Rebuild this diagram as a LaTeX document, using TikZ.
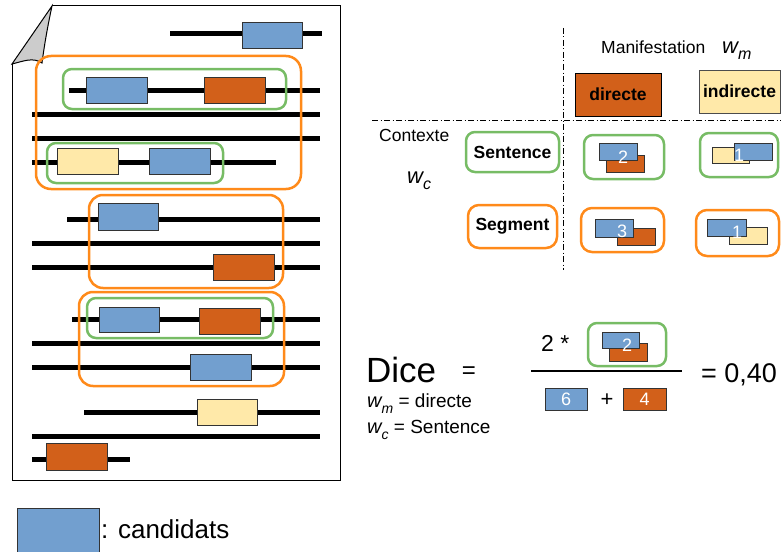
\documentclass[tikz,border=0pt]{standalone}
\usepackage{fontspec}
\setmainfont{Liberation Sans}
\definecolor{cblue}{HTML}{729FCF}
\definecolor{corange}{HTML}{D2601A}
\definecolor{cyellow}{HTML}{FFE9A9}
\definecolor{cgreen}{HTML}{77BC65}
\definecolor{cframe}{HTML}{FF8A1A}
\newcommand\fs[1]{\fontsize{#1}{#1}\selectfont}
% name, style, x1, y1, x2, y2, text
\newcommand\rect[7]{\node[#2, anchor=north west, minimum width={(#5-#3)*1pt}, minimum height={(#6-#4)*1pt}] (#1) at (#3,#4) {#7};}
\newcommand\wsub[3]{{\fs{#1}\itshape w\raisebox{-0.3em}{\fs{#2}#3}}}
\tikzset{
  cand/.style={draw=black!80, line width=0.8pt, inner sep=0pt, outer sep=0pt},
  bl/.style={cand, fill=cblue},
  orr/.style={cand, fill=corange},
  ye/.style={cand, fill=cyellow},
  gframe/.style={draw=cgreen, line width=2.5pt, rounded corners=9pt, inner sep=0pt, outer sep=0pt},
  oframe/.style={draw=cframe, line width=2.5pt, rounded corners=11pt, inner sep=0pt, outer sep=0pt},
  tline/.style={line width=5pt},
  num/.style={text=white, font=\fs{18}, inner sep=0pt},
  lbl/.style={inner sep=0pt, anchor=base west},
  dd/.style={line width=0.9pt, dash pattern=on 6pt off 2.5pt on 1pt off 2.5pt},
}
\begin{document}
\begin{tikzpicture}[x=1pt,y=-1pt]
\useasboundingbox (0,0) rectangle (781,551);
% page
\draw[line width=1pt] (52,6) -- (340,6) -- (340,480) -- (12,480) -- (12,64);
\draw[line width=1pt, fill=black!20] (52,6) -- (12,64) .. controls (24,61) and (33,57) .. (42,63) .. controls (45,40) and (49,20) .. (52,6) -- cycle;
% text lines
\foreach \y/\a/\b in {34/170/322, 90/69/320, 114/32/320, 138/32/320, 162/32/276, 219/67/320, 243/32/320, 267/32/320, 319/72/320, 343/32/320, 367/32/320, 412/84/320, 436/32/320, 459/32/130}
  \draw[tline] (\a,\y) -- (\b,\y);
% candidate boxes
\rect{c1}{bl}{242}{22}{302}{48}{}
\rect{c2}{bl}{86}{77}{147}{103}{}
\rect{c3}{orr}{204}{77}{265}{103}{}
\rect{c4}{ye}{57}{148}{118}{174}{}
\rect{c5}{bl}{149}{148}{210}{174}{}
\rect{c6}{bl}{98}{203}{158}{230}{}
\rect{c7}{orr}{213}{254}{274}{280}{}
\rect{c8}{bl}{99}{307}{159}{332}{}
\rect{c9}{orr}{199}{308}{260}{334}{}
\rect{c10}{bl}{190}{354}{251}{380}{}
\rect{c11}{ye}{197}{399}{257}{425}{}
\rect{c12}{orr}{46}{443}{107}{470}{}
% frames
\rect{f1}{oframe, rounded corners=15pt}{36}{56}{301}{189}{}
\rect{f2}{gframe}{63}{69}{286}{109}{}
\rect{f3}{gframe}{47}{143}{223}{183}{}
\rect{f4}{oframe, rounded corners=14pt}{89}{195}{283}{288}{}
\rect{f5}{oframe, rounded corners=14pt}{79}{292}{284}{386}{}
\rect{f6}{gframe}{87}{298}{273}{338}{}
% legend
\rect{leg}{bl}{17}{508}{99}{553}{}
\node[lbl, font=\fs{26}] (legt) at (101,538) {: candidats};
% table axes
\coordinate (vt) at (563,28);
\coordinate (vb) at (563,270);
\coordinate (hl) at (372,120);
\coordinate (hr) at (781,120);
\draw[dd] (vt) -- (vb);
\draw[dd] (hl) -- (hr);
\node[lbl, font=\fs{17.5}] (manif) at (601,53) {Manifestation};
\node[lbl] (wm) at (722,53) {\wsub{22}{16}{m}};
\rect{dir}{cand, draw=black, fill=corange, font=\bfseries\fs{17.5}}{575}{73}{661}{116}{directe}
\rect{ind}{cand, draw=black!70, fill=cyellow, font=\bfseries\fs{17.5}}{699}{70}{780}{113}{indirecte}
\node[lbl, font=\fs{17.5}] (ctx) at (379,141) {Contexte};
\node[lbl] (wc) at (407,183) {\wsub{22}{16}{c}};
\rect{sen}{gframe, font=\bfseries\fs{17.5}}{466}{132}{559}{172}{Sentence}
\rect{seg}{oframe, font=\bfseries\fs{17.5}}{468}{205}{557}{248}{Segment}
% cells
\rect{sd}{gframe}{584}{135}{664}{179}{}
\rect{sdo}{orr}{606}{155}{644}{172}{}
\rect{sdb}{bl}{599}{143}{637}{160}{}
\node[num] (sdn) at (623,157) {2};
\rect{si}{gframe}{700}{133}{778}{177}{}
\rect{siy}{ye}{712}{147}{749}{163}{}
\rect{sib}{bl}{734}{143}{772}{160}{}
\node[num] (sin) at (739,155) {1};
\rect{gd}{oframe}{581}{208}{664}{252}{}
\rect{gdo}{orr}{617}{228}{655}{245}{}
\rect{gdb}{bl}{595}{219}{633}{237}{}
\node[num] (gdn) at (622,231) {3};
\rect{gi}{oframe}{696}{210}{779}{256}{}
\rect{giy}{ye}{729}{227}{767}{244}{}
\rect{gib}{bl}{707}{219}{746}{236}{}
\node[num] (gin) at (737,232) {1};
% formula
\node[lbl, font=\fs{35}] (dice) at (366,382) {Dice};
\node[inner sep=0pt, font=\fs{24}] (eq1) at (469,373) {=};
\node[lbl] (wmd) at (367,407) {\wsub{20}{14}{m}{\fs{19} = directe}};
\node[lbl] (wcs) at (367,433) {\wsub{20}{14}{c}{\fs{19} = Sentence}};
\coordinate (fl) at (531,371);
\coordinate (fr) at (682,371);
\draw[line width=2pt] (fl) -- (fr);
\node[lbl, font=\fs{23}] (two) at (541,351) {2 *};
\rect{ng}{gframe}{588}{323}{666}{366}{}
\rect{ngo}{orr}{609}{343}{647}{361}{}
\rect{ngb}{bl}{602}{332}{639}{348}{}
\node[num] (ngn) at (627,345) {2};
\rect{db}{bl, text=white, font=\fs{18}}{545}{388}{587}{410}{6}
\node[inner sep=0pt, font=\fs{22}] (plus) at (607,400) {+};
\rect{do}{orr, text=white, font=\fs{18}}{623}{388}{666}{410}{4}
\node[lbl, font=\fs{27}] (res) at (701,382) {= 0,40};
\end{tikzpicture}
\end{document}
